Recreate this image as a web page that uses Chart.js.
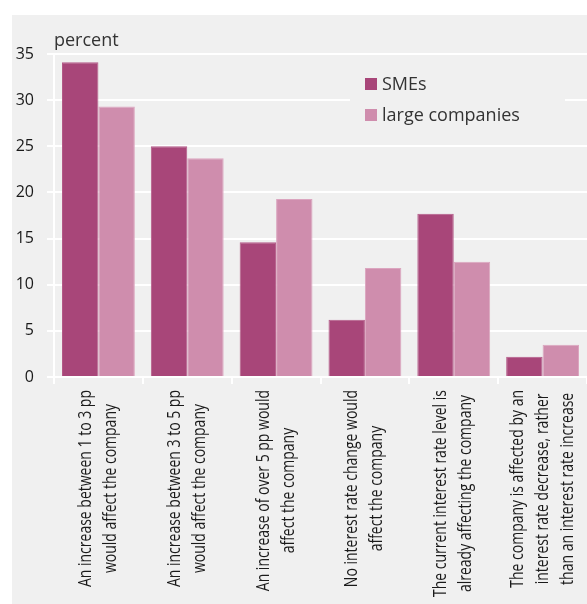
<!DOCTYPE html>
<html>
<head>
<meta charset="utf-8">
<script src="https://cdn.jsdelivr.net/npm/chart.js@4.4.1/dist/chart.umd.min.js"></script>
<style>
  html, body { margin: 0; padding: 0; background: #fff; }
  #wrap { width: 587px; height: 604px; }
</style>
</head>
<body>
<div id="wrap"><canvas id="chart" width="587" height="604"></canvas></div>
<script>
// data
const categories = [
    ['An increase between 1 to 3 pp', 'would affect the company'],
    ['An increase between 3 to 5 pp', 'would affect the company'],
    ['An increase of over 5 pp would', 'affect the company'],
    ['No interest rate change would', 'affect the company'],
    ['The current interest rate level is', 'already affecting the company'],
    ['The company is affected by an', 'interest rate decrease, rather', 'than an interest rate increase']
];
const smeValues = [34.1, 25.0, 14.6, 6.2, 17.7, 2.2];
const largeValues = [29.3, 23.7, 19.3, 11.8, 12.5, 3.5];
const seriesNames = ['SMEs', 'large companies'];
const yTicks = [0, 5, 10, 15, 20, 25, 30, 35];
const unitLabel = 'percent';

const BG = '#f0f0f0';

// grey panel with a white margin on the top and left
const panelBg = {
    id: 'panelBg',
    beforeDraw(chart) {
        const ctx = chart.ctx;
        ctx.save();
        ctx.fillStyle = '#fff';
        ctx.fillRect(0, 0, chart.width, chart.height);
        ctx.fillStyle = BG;
        ctx.fillRect(12, 15, chart.width - 12, chart.height - 15);
        ctx.restore();
    }
};

// rotated, centred multi-line category labels
const xLabels = {
    id: 'xLabels',
    afterDraw(chart) {
        const ctx = chart.ctx;
        const scale = chart.scales.x;
        const squeeze = 0.8;
        const lineGap = 25;
        const top = scale.bottom + 6;
        ctx.save();
        ctx.font = '17.5px "Open Sans"';
        ctx.fillStyle = '#1a1a1a';
        ctx.textAlign = 'center';
        ctx.textBaseline = 'middle';
        chart.data.labels.forEach((lines, i) => {
            const span = Math.max(...lines.map(l => ctx.measureText(l).width * squeeze));
            const cx = scale.getPixelForValue(i);
            const cy = top + span / 2;
            lines.forEach((line, k) => {
                ctx.save();
                ctx.translate(cx + (k - (lines.length - 1) / 2) * lineGap, cy);
                ctx.rotate(-Math.PI / 2);
                ctx.scale(squeeze, 1);
                ctx.fillText(line, 0, 0);
                ctx.restore();
            });
        });
        ctx.restore();
    }
};

// legend inside the plot + unit label
const legendBox = {
    id: 'legendBox',
    afterDraw(chart) {
        const ctx = chart.ctx;
        ctx.save();
        ctx.fillStyle = BG;
        ctx.fillRect(350, 66, 215, 64);
        ctx.font = '18px "Open Sans"';
        ctx.textBaseline = 'alphabetic';
        ctx.textAlign = 'left';
        chart.data.datasets.forEach((ds, i) => {
            const y = 90 + i * 31;
            ctx.fillStyle = ds.backgroundColor;
            ctx.fillRect(365, y - 12, 12, 12);
            ctx.fillStyle = '#333';
            ctx.fillText(ds.label, 382, y);
        });
        ctx.fillStyle = '#333';
        ctx.fillText(unitLabel, 54, 46);
        ctx.restore();
    }
};

new Chart(document.getElementById('chart'), {
    type: 'bar',
    data: {
        labels: categories,
        datasets: [
            {
                label: seriesNames[0],
                data: smeValues,
                backgroundColor: '#a84679',
                borderColor: '#b45a88',
                borderWidth: 1
            },
            {
                label: seriesNames[1],
                data: largeValues,
                backgroundColor: '#cf8dad',
                borderColor: '#dba5bf',
                borderWidth: 1
            }
        ]
    },
    options: {
        responsive: false,
        devicePixelRatio: 1,
        animation: false,
        layout: { padding: { top: 54, right: 0, bottom: 220, left: 0 } },
        datasets: {
            bar: { categoryPercentage: 0.82, barPercentage: 1.0 }
        },
        plugins: {
            legend: { display: false },
            tooltip: { enabled: false }
        },
        scales: {
            x: {
                ticks: { display: false },
                grid: {
                    drawOnChartArea: false,
                    drawTicks: true,
                    tickLength: 7,
                    color: '#fff',
                    lineWidth: 2
                },
                border: { display: true, color: '#fff', width: 2 }
            },
            y: {
                min: 0,
                max: 35,
                afterFit(scale) { scale.width = 54; },
                afterBuildTicks(scale) { scale.ticks = yTicks.map(v => ({ value: v })); },
                ticks: {
                    padding: 13,
                    color: '#1a1a1a',
                    font: { family: 'Open Sans', size: 16 }
                },
                grid: {
                    color: '#fff',
                    lineWidth: 2,
                    tickLength: 7
                },
                border: { display: true, color: '#fff', width: 2 }
            }
        }
    },
    plugins: [panelBg, xLabels, legendBox]
});
</script>
</body>
</html>
